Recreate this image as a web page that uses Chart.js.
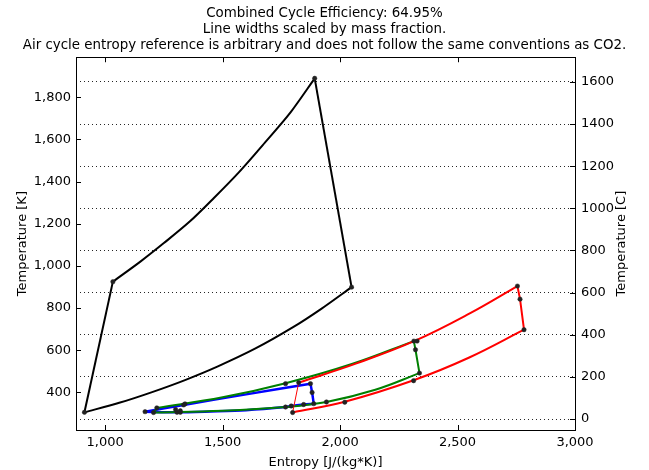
<!DOCTYPE html>
<html>
<head>
<meta charset="utf-8">
<script src="https://cdn.jsdelivr.net/npm/chart.js@4/dist/chart.umd.min.js"></script>
<style>
  html, body { margin: 0; padding: 0; background: #fff; }
  #wrap { width: 649px; height: 470px; }
</style>
</head>
<body>
<div id="wrap"><canvas id="myChart" width="649" height="470"></canvas></div>
<script>
// axis ranges and ticks
var sMin = 876, sMax = 3000;
var kMin = 221, kMax = 1990;
var sTicks = [1000, 1500, 2000, 2500, 3000];
var kTicks = [400, 600, 800, 1000, 1200, 1400, 1600, 1800];
var cTicks = [0, 200, 400, 600, 800, 1000, 1200, 1400, 1600];

// air (Brayton) cycle, [entropy, K]
var airCompress = [[912, 305], [1033, 925]];
var airHeat = [[1033, 925], [1150, 1020], [1250, 1108], [1360, 1210], [1462, 1321], [1570, 1445], [1680, 1585], [1790, 1730], [1892, 1890]];
var airExpand = [[1892, 1890], [2049, 899]];
var airCool = [[2049, 899], [1920, 796], [1800, 709], [1640, 608], [1480, 523], [1340, 458], [1200, 401], [1060, 350], [912, 305]];
var airStates = [[912, 305], [1033, 925], [1892, 1890], [2049, 899]];

// CO2 cycle, red
var redLow = [[1798, 304], [2020, 355], [2313, 457], [2550, 565], [2783, 697]];
var redRight = [[2783, 697], [2766, 842], [2755, 904]];
var redHigh = [[2755, 904], [2550, 773], [2320, 645], [2070, 537], [1824, 446]];
var redPump = [[1824, 446], [1798, 304]];
var redStates = [[1798, 304], [2020, 353], [2313, 455], [2783, 697], [2766, 842], [2755, 904], [1824, 446]];

// CO2 cycle, green
var greenHigh = [[2314, 643], [2050, 534], [1768, 443], [1500, 376], [1220, 326]];
var greenLeft = [[1220, 326], [1206, 304]];
var greenLow = [[1206, 304], [1500, 312], [1768, 330], [1942, 354], [2150, 412], [2338, 491]];
var greenRight = [[2338, 491], [2321, 602], [2314, 643]];
var greenStates = [[2314, 643], [2328, 643], [2321, 602], [2338, 491], [1942, 354], [1768, 441], [1220, 326], [1206, 304], [1340, 345], [1320, 312]];

// CO2 cycle, blue
var blueRight = [[1874, 441], [1881, 399], [1888, 346]];
var blueLow = [[1888, 346], [1845, 342], [1792, 335], [1768, 330], [1600, 315], [1450, 309], [1306, 305], [1170, 308]];
var blueHigh = [[1170, 308], [1334, 340], [1600, 390], [1874, 441]];
var blueStates = [[1874, 441], [1881, 399], [1888, 346], [1845, 342], [1792, 335], [1768, 330], [1306, 305], [1170, 308], [1334, 340], [1300, 318], [1320, 305]];

function pts(a) {
    return a.map(function (p) { return { x: p[0], y: p[1] }; });
}

function line(a, color, width, tension) {
    return {
        data: pts(a),
        showLine: true,
        borderColor: color,
        backgroundColor: color,
        borderWidth: width,
        pointRadius: 0,
        tension: tension,
        order: 1
    };
}

function dots(a) {
    return {
        data: pts(a),
        showLine: false,
        pointRadius: 2.2,
        pointBackgroundColor: '#222',
        pointBorderColor: '#222',
        pointBorderWidth: 0.5,
        order: 0
    };
}

var datasets = [
    line(airCompress, '#000', 2, 0),
    line(airHeat, '#000', 2, 0.3),
    line(airExpand, '#000', 2, 0),
    line(airCool, '#000', 2, 0.3),
    line(redLow, '#ff0000', 2, 0.4),
    line(redRight, '#ff0000', 2, 0),
    line(redHigh, '#ff0000', 2, 0.4),
    line(redPump, '#ff0000', 1, 0),
    line(greenHigh, '#008000', 2, 0.4),
    line(greenLeft, '#008000', 2, 0),
    line(greenLow, '#008000', 2, 0.4),
    line(greenRight, '#008000', 2, 0),
    line(blueRight, '#0000ff', 2.5, 0),
    line(blueLow, '#0000ff', 2.5, 0.3),
    line(blueHigh, '#0000ff', 2.5, 0.4),
    dots(airStates),
    dots(redStates),
    dots(greenStates),
    dots(blueStates)
];

var font = { family: 'DejaVu Sans', size: 13 };

// box round the plot, inward tick marks and the right-hand label, matplotlib style
var frame = {
    id: 'frame',
    afterDraw: function (chart) {
        var ctx = chart.ctx, a = chart.chartArea;
        var xs = chart.scales.x, yk = chart.scales.y, yc = chart.scales.y1;
        ctx.save();
        ctx.strokeStyle = '#000';
        ctx.lineWidth = 1;
        ctx.strokeRect(Math.round(a.left) + 0.5, Math.round(a.top) + 0.5,
            Math.round(a.right - a.left), Math.round(a.bottom - a.top));
        ctx.beginPath();
        sTicks.forEach(function (v) {
            var x = Math.round(xs.getPixelForValue(v)) + 0.5;
            ctx.moveTo(x, a.bottom); ctx.lineTo(x, a.bottom - 5);
            ctx.moveTo(x, a.top); ctx.lineTo(x, a.top + 5);
        });
        kTicks.forEach(function (v) {
            var y = Math.round(yk.getPixelForValue(v)) + 0.5;
            ctx.moveTo(a.left, y); ctx.lineTo(a.left + 5, y);
        });
        cTicks.forEach(function (v) {
            var y = Math.round(yc.getPixelForValue(v)) + 0.5;
            ctx.moveTo(a.right, y); ctx.lineTo(a.right - 5, y);
        });
        ctx.stroke();

        ctx.fillStyle = '#000';
        ctx.font = '13px "DejaVu Sans"';
        ctx.textAlign = 'center';
        ctx.textBaseline = 'middle';
        ctx.translate(622, (a.top + a.bottom) / 2);
        ctx.rotate(-Math.PI / 2);
        ctx.fillText('Temperature [C]', 0, 0);
        ctx.restore();
    }
};

function fixTicks(list) {
    return function (scale) {
        scale.ticks = list.map(function (v) { return { value: v }; });
    };
}

const config = {
    type: 'scatter',
    data: { datasets: datasets },
    plugins: [frame],
    options: {
        responsive: false,
        animation: false,
        layout: { padding: 0 },
        plugins: {
            legend: { display: false },
            tooltip: { enabled: false },
            title: {
                display: true,
                text: [
                    'Combined Cycle Efficiency: 64.95%',
                    'Line widths scaled by mass fraction.',
                    'Air cycle entropy reference is arbitrary and does not follow the same conventions as CO2.'
                ],
                color: '#000',
                font: { family: 'DejaVu Sans', size: 13.4, weight: 'normal', lineHeight: 1.2 },
                padding: { top: 5, bottom: 4 }
            }
        },
        scales: {
            x: {
                type: 'linear',
                min: sMin,
                max: sMax,
                bounds: 'data',
                afterBuildTicks: fixTicks(sTicks),
                afterFit: function (s) { s.height = 40; },
                grid: { display: false, drawTicks: false },
                border: { display: false },
                ticks: {
                    color: '#000',
                    font: font,
                    padding: 5,
                    maxRotation: 0,
                    callback: function (v) { return v.toLocaleString('en-US'); }
                },
                title: { display: true, text: 'Entropy [J/(kg*K)]', color: '#000', font: font, padding: { top: 0, bottom: 0 } }
            },
            y: {
                type: 'linear',
                position: 'left',
                min: kMin,
                max: kMax,
                bounds: 'data',
                afterBuildTicks: fixTicks(kTicks),
                afterFit: function (s) { s.width = 76; },
                grid: { display: false, drawTicks: false },
                border: { display: false },
                ticks: {
                    color: '#000',
                    font: font,
                    padding: 5,
                    callback: function (v) { return v.toLocaleString('en-US'); }
                },
                title: { display: true, text: 'Temperature [K]', color: '#000', font: font, padding: { top: 15, bottom: 0 } }
            },
            y1: {
                type: 'linear',
                position: 'right',
                min: kMin - 273.15,
                max: kMax - 273.15,
                bounds: 'data',
                afterBuildTicks: fixTicks(cTicks),
                afterFit: function (s) { s.width = 74; },
                grid: {
                    display: true,
                    drawTicks: false,
                    color: 'rgba(0,0,0,0.85)',
                    lineWidth: 1
                },
                border: { display: false, dash: [1, 3] },
                ticks: {
                    color: '#000',
                    font: font,
                    padding: 6,
                    callback: function (v) { return String(v); }
                },
                title: { display: false }
            }
        }
    }
};

const myChart = new Chart(document.getElementById('myChart'), config);
</script>
</body>
</html>
